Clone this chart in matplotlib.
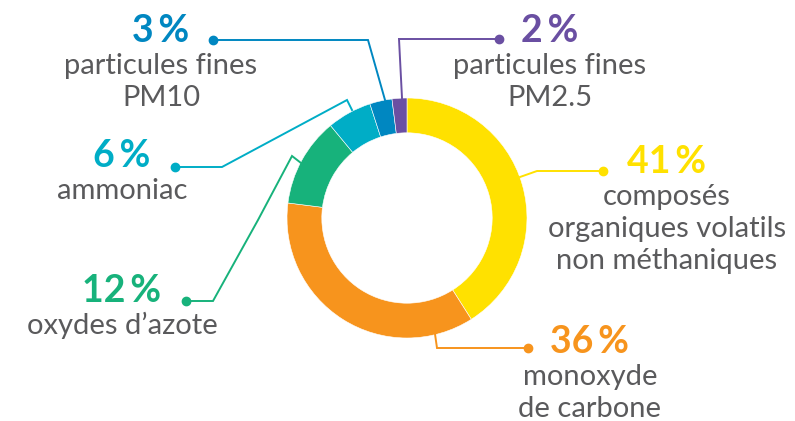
import matplotlib
matplotlib.use('Agg')
import matplotlib.pyplot as plt

# =========================
# DATA
# =========================
labels = ["composés\norganiques volatils\nnon méthaniques",
          "monoxyde\nde carbone",
          "oxydes d\u2019azote",
          "ammoniac",
          "particules fines\nPM10",
          "particules fines\nPM2.5"]
shares = [41, 36, 12, 6, 3, 2]
colors = ['#FFE100', '#F7941D', '#17B27B', '#00ADC6', '#0087C1', '#6A4FA2']

# =========================
# LAYOUT (pixel space, y measured from the top)
# =========================
W, H = 795, 421
CX, CY, R = 407, 218, 120
RING = 0.29

# text block: centre x, baseline of the percent line
text_pos = [(667, 173), (590, 353), (122, 302), (122, 167), (161, 42), (550, 42)]
# leader polylines, ring -> dot
leaders = [
    [(520, 177), (537, 171), (603, 171)],
    [(435, 334), (437, 348), (528, 348)],
    [(301, 163), (292, 156), (258, 220), (213, 301), (186, 301)],
    [(352, 110), (347, 100), (222, 167), (175, 167)],
    [(385, 100), (368, 40), (213, 40)],
    [(402, 98), (399, 39), (499, 39)],
]

TEXT_GREY = '#5A5A5C'
FONT = ['Lato', 'DejaVu Sans']


def py(y):
    return H - y


fig = plt.figure(figsize=(W / 100, H / 100), dpi=100)
ax = fig.add_axes([0, 0, 1, 1])
ax.set_xlim(0, W)
ax.set_ylim(0, H)
ax.set_aspect('equal')
ax.axis('off')

ax.pie(shares, colors=colors, startangle=90, counterclock=False,
       center=(CX, py(CY)), radius=R,
       wedgeprops=dict(width=R * RING, edgecolor='white', linewidth=0.4))
ax.set_xlim(0, W)
ax.set_ylim(0, H)

for pts, col in zip(leaders, colors):
    xs = [p[0] for p in pts]
    ys = [py(p[1]) for p in pts]
    ax.plot(xs, ys, color=col, linewidth=1.4, solid_joinstyle='miter')
    ax.plot(xs[-1], ys[-1], 'o', color=col, markersize=6)

for lab, val, col, (tx, ty) in zip(labels, shares, colors, text_pos):
    ax.text(tx, py(ty), f'{val}\u2009%', color=col, fontsize=27,
            fontweight='bold', family=FONT, ha='center', va='baseline')
    for i, line in enumerate(lab.split('\n')):
        ax.text(tx, py(ty + 32 + 32 * i), line, color=TEXT_GREY, fontsize=21,
                family=FONT, ha='center', va='baseline')

plt.savefig('out.png', dpi=100, facecolor='white')
plt.close()
